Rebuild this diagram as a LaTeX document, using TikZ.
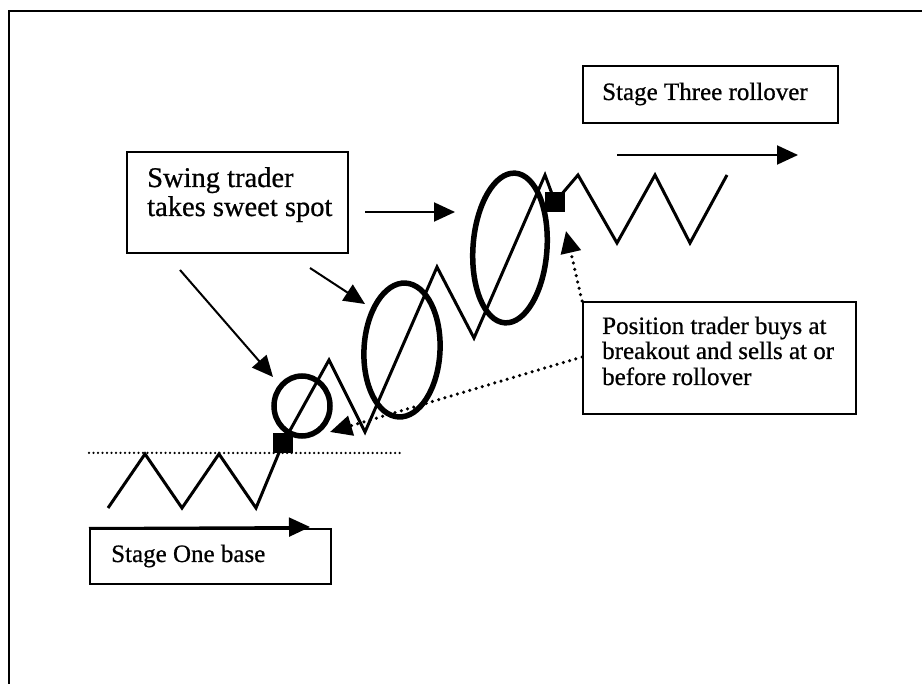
\documentclass[tikz,border=0pt]{standalone}
\usepackage{fontspec}
\setmainfont{Liberation Serif}
\newfontfamily\scanfont{Liberation Serif}[FakeBold=0.7]
\usetikzlibrary{arrows.meta}
\tikzset{
  box/.style={draw, line width=1.8pt, anchor=north west, inner sep=0pt},
  lbl/.style={anchor=base west, inner sep=0pt, font=\scanfont\fontsize{25}{26}\selectfont},
  biglbl/.style={lbl, font=\scanfont\fontsize{28.5}{29}\selectfont},
  arr/.style={line width=2pt, -{Triangle[length=21pt,width=19pt]}},
  darr/.style={line width=3.5pt, line cap=round, dash pattern=on 0pt off 6.5pt, -{Triangle[length=22pt,width=20pt]}},
  zz/.style={line width=3pt, line join=miter},
  sq/.style={fill=black, minimum size=20pt, inner sep=0pt}
}
\begin{document}
\begin{tikzpicture}[x=1pt,y=-1pt]
\useasboundingbox (0,0) rectangle (922,684);
% frame (left and top only)
\draw[line width=2.5pt] (9,684) -- (9,11) -- (922,11);

% boxes
\node[box, minimum width=221pt, minimum height=101pt] (swing) at (126,151) {};
\node[biglbl] (swing1) at (147,187) {Swing trader};
\node[biglbl] (swing2) at (147,216) {takes sweet spot};

\node[box, minimum width=255pt, minimum height=57pt] (three) at (582,65) {};
\node[lbl] (threet) at (602,100) {Stage Three rollover};

\node[box, minimum width=273pt, minimum height=112pt] (pos) at (582,301) {};
\node[lbl] (pos1) at (602,334) {Position trader buys at};
\node[lbl] (pos2) at (602,359) {breakout and sells at or};
\node[lbl] (pos3) at (602,385) {before rollover};

\node[box, minimum width=241pt, minimum height=55pt] (one) at (89,528) {};
\node[lbl] (onet) at (111,562) {Stage One base};

% dotted base line
\draw[line width=2.5pt, line cap=round, dash pattern=on 0pt off 4.5pt] (89,453) -- (400,453);

% price zigzag
\draw[zz] (108,508) -- (145,454) -- (182,508) -- (219,454) -- (256,508)
  -- (283,443) -- (329,360) -- (365,432) -- (437,267) -- (474,338)
  -- (545,175) -- (555,202) -- (578,175) -- (617,243) -- (655,175)
  -- (690,243) -- (727,175);

% ellipses
\draw[line width=5.5pt] (302,406) ellipse [x radius=28, y radius=30];
\draw[line width=5.5pt, rotate around={-3:(402,350)}] (402,350) ellipse [x radius=38, y radius=67];
\draw[line width=5.5pt, rotate around={-4:(510,248)}] (510,248) ellipse [x radius=37, y radius=75];

% squares
\node[sq] (sq1) at (283,443) {};
\node[sq] (sq2) at (555,202) {};

% arrow coordinates
\coordinate (a1s) at (180,270);
\coordinate (a1e) at (273,377);
\coordinate (a2s) at (310,268);
\coordinate (a2e) at (365,304);
\coordinate (a3s) at (365,212);
\coordinate (a3e) at (455,212);
\coordinate (a4s) at (617,155);
\coordinate (a4e) at (798,155);
\coordinate (a5e) at (310,527);
\coordinate (d1e) at (566,231);
\coordinate (d2s) at (pos.west |- 0,357);
\coordinate (d2e) at (330,432);

\draw[arr] (a1s) -- (a1e);
\draw[arr] (a2s) -- (a2e);
\draw[arr] (a3s) -- (a3e);
\draw[arr] (a4s) -- (a4e);
\draw[arr] (one.north west) -- (a5e);

\draw[darr] (pos.north west) -- (d1e);
\draw[darr] (d2s) -- (d2e);
\end{tikzpicture}
\end{document}
